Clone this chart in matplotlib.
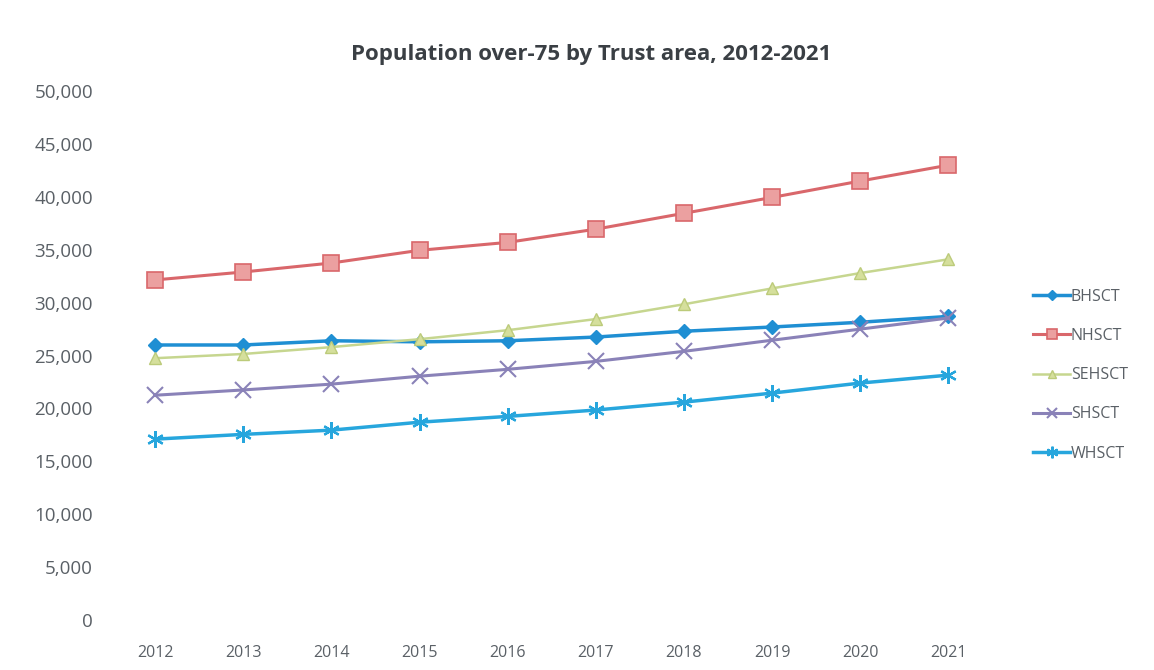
import matplotlib.pyplot as plt
from matplotlib.ticker import FuncFormatter

plt.rcParams["font.family"] = ["Open Sans", "DejaVu Sans"]

# data
years = ["2012", "2013", "2014", "2015", "2016", "2017", "2018", "2019", "2020", "2021"]
bhsct = [26000, 26000, 26400, 26300, 26400, 26750, 27300, 27700, 28150, 28700]
nhsct = [32150, 32900, 33750, 34950, 35700, 36950, 38450, 39950, 41500, 43000]
sehsct = [24750, 25150, 25800, 26550, 27400, 28450, 29850, 31350, 32800, 34100]
shsct = [21250, 21750, 22300, 23050, 23700, 24450, 25400, 26450, 27500, 28550]
whsct = [17100, 17550, 17950, 18700, 19250, 19850, 20600, 21450, 22400, 23150]

fig = plt.figure(figsize=(11.54, 6.70), dpi=100)
ax = fig.add_axes([0.0962, 0.0746, 0.7638, 0.7894])

x = range(len(years))
ax.plot(x, bhsct, color="#1f8fd3", lw=2.5, marker="D", ms=7, label="BHSCT")
ax.plot(x, nhsct, color="#d9676b", lw=2.2, marker="s", ms=11,
        mfc="#eba0a0", mec="#d9676b", mew=1.2, label="NHSCT")
ax.plot(x, sehsct, color="#c6d68f", lw=1.8, marker="^", ms=9,
        mfc="#d5df9c", mec="#bccb7a", label="SEHSCT")
ax.plot(x, shsct, color="#8a82b8", lw=2.2, marker="x", ms=11, mew=1.5, label="SHSCT")
ax.plot(x, whsct, color="#27a6dd", lw=2.5, marker=(6, 2, 0), ms=12, mew=1.6, label="WHSCT")

ax.set_xlim(-0.5, 9.5)
ax.set_ylim(0, 50000)
ax.set_xticks(list(x))
ax.set_xticklabels(years)
ax.set_yticks(range(0, 50001, 5000))
ax.yaxis.set_major_formatter(FuncFormatter(lambda v, p: "{:,.0f}".format(v)))
ax.tick_params(length=0, colors="#5a6066")
ax.tick_params(axis="x", pad=18, labelsize=11.5)
ax.tick_params(axis="y", pad=13, labelsize=13.5)
for s in ax.spines.values():
    s.set_visible(False)

fig.text(0.512, 0.918, "Population over-75 by Trust area, 2012-2021",
         ha="center", va="center", fontsize=16, fontweight="bold", color="#3a3f44")

leg = fig.legend(loc="center left", bbox_to_anchor=(0.883, 0.44), frameon=False,
                 fontsize=11.5, handlelength=2.3, handletextpad=0.05, labelspacing=1.45,
                 markerscale=0.7)
for t in leg.get_texts():
    t.set_color("#5a6066")

plt.savefig("out.png", dpi=100)
